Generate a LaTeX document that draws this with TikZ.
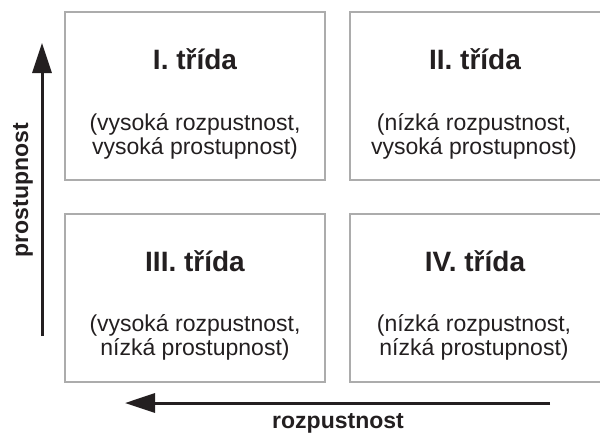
\documentclass[tikz,border=0pt]{standalone}
\usepackage{fontspec}
\setmainfont{Liberation Sans}
\usetikzlibrary{arrows.meta}
\definecolor{boxgray}{RGB}{172,172,172}
\definecolor{ink}{RGB}{35,31,32}
\begin{document}
\begin{tikzpicture}[x=1pt,y=-1pt,
  quad/.style={draw=boxgray, line width=1.5pt, inner sep=0pt, minimum height=168pt},
  titletext/.style={font=\fontsize{28}{30}\selectfont\bfseries, text=ink},
  bodytext/.style={font=\fontsize{23}{24}\selectfont, align=center, text=ink},
  axisarrow/.style={line width=3pt, draw=ink, -{Triangle[length=30pt,width=19pt]}},
  axislabel/.style={font=\fontsize{23}{24}\selectfont\bfseries, text=ink}]
\useasboundingbox (0,0) rectangle (600,432);
% boxes
\node[quad, minimum width=260pt] (q1) at (195,96) {};
\node[quad, minimum width=252pt] (q2) at (476,96) {};
\node[quad, minimum width=260pt] (q3) at (195,298) {};
\node[quad, minimum width=252pt] (q4) at (476,298) {};
% titles
\node[titletext] (t1) at ([yshift=-48pt]q1.north) {I. třída};
\node[titletext] (t2) at ([xshift=-1pt,yshift=-48pt]q2.north) {II. třída};
\node[titletext] (t3) at ([yshift=-48pt]q3.north) {III. třída};
\node[titletext] (t4) at ([xshift=-1pt,yshift=-48pt]q4.north) {IV. třída};
% bodies
\node[bodytext] (b1) at ([yshift=-125pt]q1.north) {(vysoká rozpustnost,\\vysoká prostupnost)};
\node[bodytext] (b2) at ([xshift=-2pt,yshift=-125pt]q2.north) {(nízká rozpustnost,\\vysoká prostupnost)};
\node[bodytext] (b3) at ([yshift=-124pt]q3.north) {(vysoká rozpustnost,\\nízká prostupnost)};
\node[bodytext] (b4) at ([xshift=-2pt,yshift=-124pt]q4.north) {(nízká rozpustnost,\\nízká prostupnost)};
% axes
\coordinate (ya) at (42,336);
\coordinate (yb) at (42,43);
\draw[axisarrow] (ya) -- (yb);
\coordinate (xa) at (550,403);
\coordinate (xb) at (125,403);
\draw[axisarrow] (xa) -- (xb);
\node[axislabel, rotate=90, anchor=base] (ly) at (28,190) {prostupnost};
\node[axislabel, anchor=base] (lx) at (338,428) {rozpustnost};
\end{tikzpicture}
\end{document}
